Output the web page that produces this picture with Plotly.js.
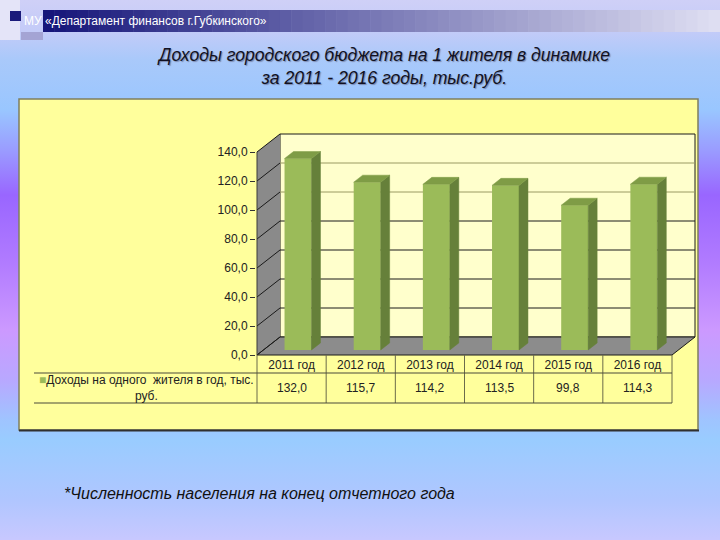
<!DOCTYPE html>
<html>
<head>
<meta charset="utf-8">
<script src="https://cdn.plot.ly/plotly-3.0.1.min.js"></script>
<style>
html,body{margin:0;padding:0;}
#chart{width:720px;height:540px;
background:linear-gradient(to bottom,#cfd0f7 0px,#c4cbf8 30px,#a9c9fa 60px,#99c6ff 110px,#9a9cff 150px,#9966ff 195px,#b07aff 260px,#cc99ff 330px,#b8a8ff 380px,#9fc4ff 420px,#99ccff 440px,#b0c6ff 500px,#c8c8ff 540px);}
</style>
</head>
<body>
<div id="chart"></div>
<script>
// ---- data ----
const categories = ['2011 год','2012 год','2013 год','2014 год','2015 год','2016 год'];
const incomePerResident = [132.0, 115.7, 114.2, 113.5, 99.8, 114.3];
const yTickValues = [0, 20, 40, 60, 80, 100, 120, 140];
const seriesLabel = 'Доходы на одного\u00a0 жителя в год, тыс.<br>руб.';
const headerText = 'МУ «Департамент финансов г.Губкинского»';
const titleText = 'Доходы городского бюджета на 1 жителя в динамике<br>за 2011 - 2016 годы, тыс.руб.';
const footnoteText = '*Численность населения на конец отчетного года';

const fmt = v => v.toFixed(1).replace('.', ',');
const FONT = 'Liberation Sans, Arial, sans-serif';

// ---- geometry (styling) ----
const PX_X = 415 / 6, PX_Y = 1.45;
const DX = 23 / PX_X, DY = 18 / PX_Y;          // full 3-D depth
const yTop = yTickValues[yTickValues.length - 1];
const n = categories.length;
const xMin = -0.5 - 1 / PX_X, xMax = n - 0.5 + DX + 1 / PX_X;
const yMin = -1 / PX_Y, yMax = yTop + DY + 1 / PX_Y;
const M = {l: 256, r: 24, t: 133, b: 184};
const PW = 440, PH = 223;
const pxX = px => (px - M.l) / PW;
const pxY = py => (M.t + PH - py) / PH;

const FF = 0.28, BF = 0.39, BW = 0.39;
const fdx = FF * DX, fdy = FF * DY, bdx = BF * DX, bdy = BF * DY;

const idx = categories.map((c, i) => i);

// ---- traces ----
const traces = [];
traces.push({
  type: 'bar', x: idx.map(i => i + fdx), y: incomePerResident, base: fdy, width: BW,
  marker: {color: '#9bbb59', line: {width: 0}}, hoverinfo: 'skip', showlegend: false
});
incomePerResident.forEach((v, i) => {
  const xl = i + fdx - BW / 2, xr = i + fdx + BW / 2;
  const yb = fdy, yt = fdy + v;
  traces.push({
    type: 'scatter', mode: 'lines', fill: 'toself', fillcolor: '#66803a',
    line: {width: 0.5, color: '#66803a'}, hoverinfo: 'skip', showlegend: false,
    x: [xr, xr + bdx, xr + bdx, xr, xr], y: [yb, yb + bdy, yt + bdy, yt, yb]
  });
  traces.push({
    type: 'scatter', mode: 'lines', fill: 'toself', fillcolor: '#7f9c46',
    line: {width: 0.5, color: '#7f9c46'}, hoverinfo: 'skip', showlegend: false,
    x: [xl, xr, xr + bdx, xl + bdx, xl], y: [yt, yt, yt + bdy, yt + bdy, yt]
  });
});

// ---- shapes ----
const shapes = [];
// header decoration
shapes.push({type: 'rect', xref: 'paper', yref: 'paper', x0: pxX(0), x1: pxX(20), y0: pxY(0), y1: pxY(40), fillcolor: '#e4e4f8', line: {width: 0}, layer: 'below'});
const NS = 60, hx0 = 43, hx1 = 720;
for (let k = 0; k < NS; k++) {
  const f = k / (NS - 1);
  const r = Math.round(22 + (222 - 22) * f), g = Math.round(22 + (222 - 22) * f), b = Math.round(122 + (242 - 122) * f);
  const a = hx0 + (hx1 - hx0) * k / NS, c = hx0 + (hx1 - hx0) * (k + 1) / NS + 0.5;
  shapes.push({type: 'rect', xref: 'paper', yref: 'paper', x0: pxX(a), x1: pxX(c), y0: pxY(10), y1: pxY(32), fillcolor: `rgb(${r},${g},${b})`, line: {width: 0}, layer: 'below'});
}
shapes.push({type: 'rect', xref: 'paper', yref: 'paper', x0: pxX(10), x1: pxX(21), y0: pxY(11), y1: pxY(21), fillcolor: '#1a1a7a', line: {width: 0}, layer: 'below'});
shapes.push({type: 'rect', xref: 'paper', yref: 'paper', x0: pxX(21), x1: pxX(43), y0: pxY(32), y1: pxY(40), fillcolor: '#a4a4d4', line: {width: 0}, layer: 'below'});
// chart area box
shapes.push({type: 'rect', xref: 'paper', yref: 'paper', x0: pxX(19), x1: pxX(698), y0: pxY(430), y1: pxY(99), fillcolor: '#ffff9c', line: {color: '#7f7f5f', width: 1.5}, layer: 'below'});
shapes.push({type: 'line', xref: 'paper', yref: 'paper', x0: pxX(19), x1: pxX(699), y0: pxY(430.5), y1: pxY(430.5), line: {color: '#303030', width: 2}, layer: 'below'});
// back wall
shapes.push({type: 'rect', xref: 'x', yref: 'y', x0: -0.5 + DX, x1: n - 0.5 + DX, y0: DY, y1: yTop + DY, fillcolor: '#ffffcc', line: {color: '#1a1a1a', width: 1}, layer: 'below'});
// left wall
shapes.push({type: 'path', xref: 'x', yref: 'y', path: `M ${-0.5},0 L ${-0.5 + DX},${DY} L ${-0.5 + DX},${yTop + DY} L ${-0.5},${yTop} Z`, fillcolor: '#8a8a8a', line: {width: 0}, layer: 'below'});
// floor
shapes.push({type: 'path', xref: 'x', yref: 'y', path: `M ${-0.5},0 L ${n - 0.5},0 L ${n - 0.5 + DX},${DY} L ${-0.5 + DX},${DY} Z`, fillcolor: '#8c8c8c', line: {color: '#1a1a1a', width: 1}, layer: 'below'});
// gridlines
yTickValues.forEach(v => {
  const col = (v === 100 || v === 120) ? '#9a9a62' : '#1a1a1a';
  if (v > 0 && v < yTop) {
    shapes.push({type: 'line', xref: 'x', yref: 'y', x0: -0.5 + DX, x1: n - 0.5 + DX, y0: v + DY, y1: v + DY, line: {color: col, width: 1}, layer: 'below'});
  }
  shapes.push({type: 'line', xref: 'x', yref: 'y', x0: -0.5, x1: -0.5 + DX, y0: v, y1: v + DY, line: {color: '#1a1a1a', width: 1}, layer: 'below'});
});
// left wall front edge
shapes.push({type: 'line', xref: 'x', yref: 'y', x0: -0.5, x1: -0.5, y0: 0, y1: yTop, line: {color: '#3a3a3a', width: 1}, layer: 'below'});
// data table
for (let k = 0; k <= n; k++) {
  shapes.push({type: 'line', xref: 'x', yref: 'paper', x0: k - 0.5, x1: k - 0.5, y0: pxY(355), y1: pxY(403), line: {color: '#6b6b4b', width: 1}});
}
[373, 403].forEach(py => {
  shapes.push({type: 'line', xref: 'paper', yref: 'paper', x0: pxX(34), x1: pxX(257 + 415), y0: pxY(py), y1: pxY(py), line: {color: '#4a4a3a', width: 1}});
});

// ---- annotations ----
const annotations = [];
annotations.push({xref: 'paper', yref: 'paper', x: pxX(22), y: pxY(21), xanchor: 'left', yanchor: 'middle', showarrow: false,
  text: headerText, font: {family: FONT, size: 12, color: '#ffffff'}});
annotations.push({xref: 'paper', yref: 'paper', x: pxX(383), y: pxY(66), xanchor: 'center', yanchor: 'middle', showarrow: false,
  text: titleText, font: {family: FONT, size: 17.6, color: '#111122', style: 'italic', shadow: '1px 1px 1px rgba(90,90,120,0.6)'}});
annotations.push({xref: 'paper', yref: 'paper', x: pxX(146), y: pxY(388), xanchor: 'center', yanchor: 'middle', showarrow: false,
  text: '<span style="color:#9bbb59">■</span>' + seriesLabel, font: {family: FONT, size: 12, color: '#222'}});
incomePerResident.forEach((v, i) => {
  annotations.push({xref: 'x', yref: 'paper', x: i, y: pxY(388), xanchor: 'center', yanchor: 'middle', showarrow: false,
    text: fmt(v), font: {family: FONT, size: 12, color: '#222'}});
});
annotations.push({xref: 'paper', yref: 'paper', x: pxX(62), y: pxY(493), xanchor: 'left', yanchor: 'middle', showarrow: false,
  text: footnoteText, font: {family: FONT, size: 16, color: '#111', style: 'italic'}});

const layout = {
  width: 720, height: 540, autosize: false,
  margin: M,
  paper_bgcolor: 'rgba(0,0,0,0)', plot_bgcolor: 'rgba(0,0,0,0)',
  showlegend: false,
  xaxis: {range: [xMin, xMax], tickvals: idx, ticktext: categories, showgrid: false, zeroline: false, showline: false,
    ticks: '', tickfont: {family: FONT, size: 12, color: '#222'}, fixedrange: true},
  yaxis: {range: [yMin, yMax], tickvals: yTickValues, ticktext: yTickValues.map(fmt), showgrid: false, zeroline: false, showline: false,
    ticks: 'outside', ticklen: 5, tickcolor: '#333', tickfont: {family: FONT, size: 12, color: '#222'}, fixedrange: true},
  shapes: shapes,
  annotations: annotations
};

Plotly.newPlot('chart', traces, layout, {displayModeBar: false, staticPlot: true});
</script>
</body>
</html>
